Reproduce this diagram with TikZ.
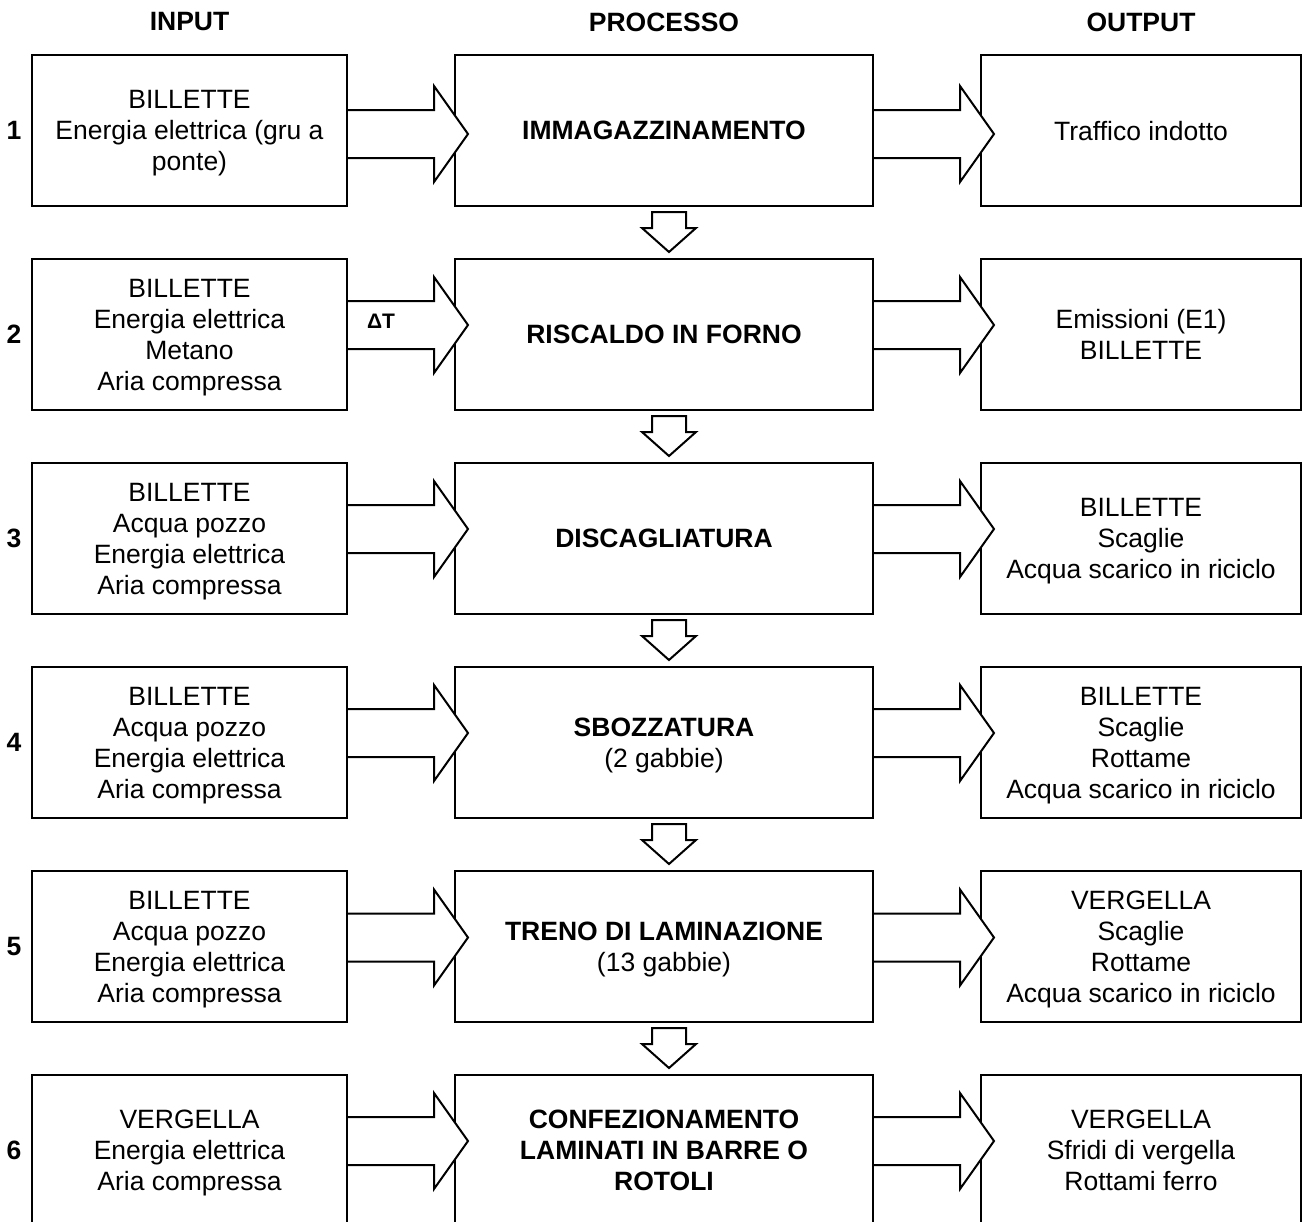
\documentclass[tikz,border=0pt]{standalone}
\usepackage{fontspec}
\setmainfont{Liberation Sans}
\usetikzlibrary{calc}
\newcommand\txt{\fontsize{26.5}{31}\selectfont}
\newcommand\txtb{\fontsize{26.5}{31}\selectfont\bfseries}
\tikzset{
 box/.style={draw, line width=2pt, minimum height=151pt, align=center, inner sep=0pt, text depth=0pt, font=\txt},
 inbox/.style={box, minimum width=315pt},
 procbox/.style={box, minimum width=418pt, font=\txtb},
 outbox/.style={box, minimum width=320pt},
 blk/.style={draw, fill=white, line width=2pt, line join=miter},
 hdr/.style={font=\txtb, inner sep=0pt},
 num/.style={font=\txtb, inner sep=0pt},
}
\newcommand\rarr[2]{\path[blk] (#1.east |- 0,#2) ++(0,-24) -- ++(86,0) -- ++(0,-24) -- ++(34,48) -- ++(-34,48) -- ++(0,-24) -- ++(-86,0);}
\newcommand\darr[1]{\path[blk] ($(#1.south)+(-12,5)$) -- ++(34,0) -- ++(0,16) -- ++(10,0) -- ++(-27,24) -- ++(-27,-24) -- ++(10,0) -- cycle;}
\begin{document}
\begin{tikzpicture}[x=1pt,y=-1pt]
\useasboundingbox (0,0) rectangle (1303,1221);
\clip (0,0) rectangle (1303,1221);
\fill[white] (0,0) rectangle (1303,1221);
% headers
\node[hdr] (hin) at (189.5,22) {INPUT};
\node[hdr] (hpr) at (664,22) {PROCESSO};
\node[hdr] (hout) at (1141,22) {OUTPUT};
% row 1
\node[inbox] (i1) at (189.5,130.5) {BILLETTE\\Energia elettrica (gru a\\ponte)};
\node[procbox] (p1) at (664,130.5) {IMMAGAZZINAMENTO};
\node[outbox] (o1) at (1141,130.5) {Traffico indotto};
\node[num] (n1) at (14,130.5) {1};
% row 2
\node[inbox] (i2) at (189.5,334.5) {BILLETTE\\Energia elettrica\\Metano\\Aria compressa};
\node[procbox] (p2) at (664,334.5) {RISCALDO IN FORNO};
\node[outbox] (o2) at (1141,334.5) {Emissioni (E1)\\BILLETTE};
\node[num] (n2) at (14,334.5) {2};
% row 3
\node[inbox] (i3) at (189.5,538.5) {BILLETTE\\Acqua pozzo\\Energia elettrica\\Aria compressa};
\node[procbox] (p3) at (664,538.5) {DISCAGLIATURA};
\node[outbox] (o3) at (1141,538.5) {BILLETTE\\Scaglie\\Acqua scarico in riciclo};
\node[num] (n3) at (14,538.5) {3};
% row 4
\node[inbox] (i4) at (189.5,742.5) {BILLETTE\\Acqua pozzo\\Energia elettrica\\Aria compressa};
\node[procbox] (p4) at (664,742.5) {SBOZZATURA\\\mdseries (2 gabbie)};
\node[outbox] (o4) at (1141,742.5) {BILLETTE\\Scaglie\\Rottame\\Acqua scarico in riciclo};
\node[num] (n4) at (14,742.5) {4};
% row 5
\node[inbox] (i5) at (189.5,946.5) {BILLETTE\\Acqua pozzo\\Energia elettrica\\Aria compressa};
\node[procbox] (p5) at (664,946.5) {TRENO DI LAMINAZIONE\\\mdseries (13 gabbie)};
\node[outbox] (o5) at (1141,946.5) {VERGELLA\\Scaglie\\Rottame\\Acqua scarico in riciclo};
\node[num] (n5) at (14,946.5) {5};
% row 6
\node[inbox] (i6) at (189.5,1150.5) {VERGELLA\\Energia elettrica\\Aria compressa};
\node[procbox] (p6) at (664,1150.5) {CONFEZIONAMENTO\\LAMINATI IN BARRE O\\ROTOLI};
\node[outbox] (o6) at (1141,1150.5) {VERGELLA\\Sfridi di vergella\\Rottami ferro};
\node[num] (n6) at (14,1150.5) {6};
% horizontal arrows
\rarr{i1}{134} \rarr{p1}{134}
\rarr{i2}{325} \rarr{p2}{325}
\rarr{i3}{529} \rarr{p3}{529}
\rarr{i4}{733} \rarr{p4}{733}
\rarr{i5}{937.5} \rarr{p5}{937.5}
\rarr{i6}{1141} \rarr{p6}{1141}
% delta T label
\node[font=\fontsize{21}{23}\selectfont\bfseries, inner sep=0pt] (dt) at (381,321) {ΔT};
% vertical arrows
\darr{p1} \darr{p2} \darr{p3} \darr{p4} \darr{p5}
\end{tikzpicture}
\end{document}
